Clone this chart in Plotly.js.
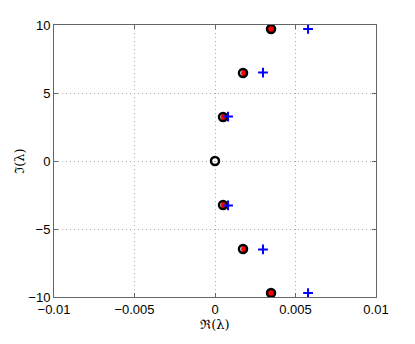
<!DOCTYPE html>
<html>
<head>
<meta charset="utf-8">
<script src="https://cdn.plot.ly/plotly-3.0.1.min.js"></script>
<style>
  body { margin: 0; background: #fff; }
  #chart { width: 415px; height: 344px; }
</style>
</head>
<body>
<div id="chart"></div>
<script>
// eigenvalues, real and imaginary parts
let circleRe = [0.00348, 0.00174, 0.0005, 0, 0.0005, 0.00174, 0.00348];
let circleIm = [9.71, 6.47, 3.24, 0, -3.24, -6.47, -9.71];

let redRe = [0.00349, 0.00184, 0.00058, 0.00058, 0.00184, 0.00349];
let redIm = [9.71, 6.47, 3.24, -3.24, -6.47, -9.71];

let plusRe = [0.00578, 0.00298, 0.00081, 0.00081, 0.00298, 0.00578];
let plusIm = [9.71, 6.5, 3.27, -3.27, -6.5, -9.71];

let xTicks = [-0.01, -0.005, 0, 0.005, 0.01];
let yTicks = [-10, -5, 0, 5, 10];

let red = {
  x: redRe,
  y: redIm,
  mode: "markers",
  type: "scatter",
  marker: { symbol: "circle", size: 7, color: "#ff0000", line: { width: 0 } },
};

let black = {
  x: circleRe,
  y: circleIm,
  mode: "markers",
  type: "scatter",
  marker: { symbol: "circle-open", size: 8, color: "#000000", line: { width: 2.5 } },
};

let blue = {
  x: plusRe,
  y: plusIm,
  mode: "markers",
  type: "scatter",
  marker: { symbol: "cross-thin-open", size: 7, color: "#0000ff", line: { width: 2, color: "#0000ff" } },
};

let axisCommon = {
  showline: true,
  mirror: "ticks",
  linecolor: "#666",
  linewidth: 1,
  ticks: "inside",
  ticklen: 4,
  tickcolor: "#666",
  showgrid: true,
  gridcolor: "#aaa",
  griddash: "1px,3px",
  gridwidth: 1,
  zeroline: false,
  tickfont: { family: "Liberation Sans, Arial, sans-serif", size: 13, color: "#000" },
};

let layout = {
  width: 415,
  height: 344,
  margin: { l: 54, r: 39, t: 25, b: 47 },
  showlegend: false,
  paper_bgcolor: "#fff",
  plot_bgcolor: "#fff",
  xaxis: Object.assign({}, axisCommon, {
    range: [-0.01, 0.01],
    tickvals: xTicks,
    ticktext: ["\u22120.01", "\u22120.005", "0", "0.005", "0.01"],
    title: { text: "\u211C(\u03BB)", font: { family: "DejaVu Serif, serif", size: 13, color: "#000" }, standoff: 2 },
  }),
  yaxis: Object.assign({}, axisCommon, {
    range: [-10, 10],
    tickvals: yTicks,
    ticktext: ["\u221210", "\u22125", "0", "5", "10"],
    title: { text: "\u2111(\u03BB)", font: { family: "DejaVu Serif, serif", size: 13, color: "#000" }, standoff: 0 },
  }),
};

Plotly.newPlot("chart", [red, black, blue], layout, { displayModeBar: false, staticPlot: true });
</script>
</body>
</html>
